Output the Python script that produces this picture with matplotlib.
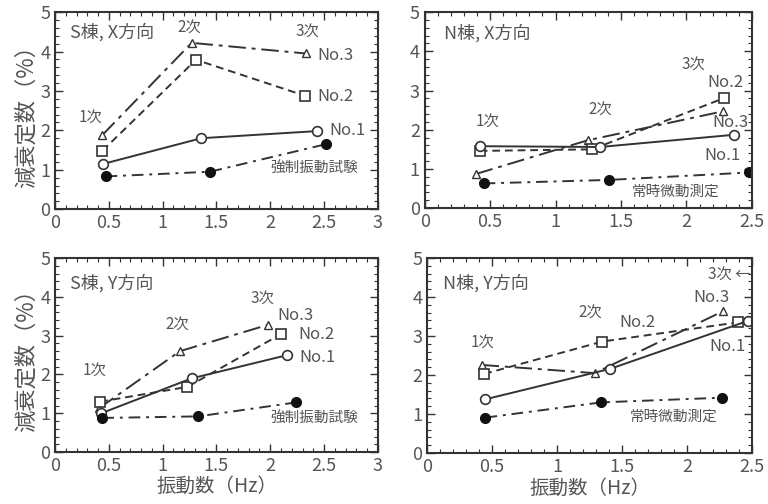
import matplotlib
matplotlib.use("Agg")
import matplotlib.pyplot as plt
from matplotlib.ticker import MultipleLocator, FormatStrFormatter

plt.rcParams['font.family'] = ['Noto Sans CJK JP', 'DejaVu Sans']

TEXT_COLOR = "#555555"
LINE_COLOR = "#333333"

# S棟 X方向
sx_no1_x = [0.45, 1.36, 2.43]
sx_no1_y = [1.15, 1.80, 1.98]
sx_no2_x = [0.44, 1.31, 2.32]
sx_no2_y = [1.48, 3.79, 2.88]
sx_no3_x = [0.44, 1.27, 2.33]
sx_no3_y = [1.88, 4.22, 3.95]
sx_forced_x = [0.47, 1.44, 2.52]
sx_forced_y = [0.83, 0.95, 1.65]

# N棟 X方向
nx_no1_x = [0.42, 1.34, 2.36]
nx_no1_y = [1.58, 1.56, 1.87]
nx_no2_x = [0.42, 1.28, 2.29]
nx_no2_y = [1.46, 1.50, 2.81]
nx_no3_x = [0.39, 1.245, 2.28]
nx_no3_y = [0.87, 1.73, 2.47]
nx_micro_x = [0.45, 1.41, 2.48]
nx_micro_y = [0.63, 0.72, 0.91]

# S棟 Y方向
sy_no1_x = [0.43, 1.27, 2.16]
sy_no1_y = [1.00, 1.90, 2.50]
sy_no2_x = [0.42, 1.23, 2.10]
sy_no2_y = [1.30, 1.68, 3.04]
sy_no3_x = [0.41, 1.16, 1.98]
sy_no3_y = [1.13, 2.60, 3.28]
sy_forced_x = [0.44, 1.33, 2.24]
sy_forced_y = [0.88, 0.92, 1.28]

# N棟 Y方向
ny_no1_x = [0.45, 1.41, 2.47]
ny_no1_y = [1.38, 2.16, 3.39]
ny_no2_x = [0.44, 1.35, 2.39]
ny_no2_y = [2.03, 2.86, 3.35]
ny_no3_x = [0.42, 1.29, 2.28]
ny_no3_y = [2.26, 2.05, 3.64]
ny_micro_x = [0.45, 1.34, 2.27]
ny_micro_y = [0.91, 1.30, 1.42]

LS_NO3 = (0, (9, 3, 2, 3))
LS_NO2 = (0, (4, 2.5))
LS_REF = (0, (6, 3, 1.5, 3))

fig = plt.figure(figsize=(7.68, 5.04), dpi=100)
positions = [
    [0.0716, 0.585, 0.4204, 0.391],
    [0.553, 0.587, 0.426, 0.389],
    [0.0716, 0.103, 0.4204, 0.385],
    [0.556, 0.101, 0.423, 0.387],
]
axes = [fig.add_axes(p) for p in positions]


def draw_panel(ax, xmax, no1, no2, no3, ref):
    ax.plot(no3[0], no3[1], color=LINE_COLOR, lw=1.4, ls=LS_NO3, marker="^",
            ms=5.5, mfc="white", mec=LINE_COLOR, mew=1.0)
    ax.plot(no2[0], no2[1], color=LINE_COLOR, lw=1.4, ls=LS_NO2, marker="s",
            ms=6.5, mfc="white", mec=LINE_COLOR, mew=1.2)
    ax.plot(no1[0], no1[1], color=LINE_COLOR, lw=1.4, ls="-", marker="o",
            ms=7, mfc="white", mec=LINE_COLOR, mew=1.2)
    ax.plot(ref[0], ref[1], color=LINE_COLOR, lw=1.4, ls=LS_REF, marker="o",
            ms=7, mfc="#111111", mec="#111111")
    ax.set_xlim(0, xmax)
    ax.set_ylim(0, 5)
    ax.xaxis.set_major_locator(MultipleLocator(0.5))
    ax.xaxis.set_minor_locator(MultipleLocator(0.1))
    ax.yaxis.set_major_locator(MultipleLocator(1))
    ax.yaxis.set_minor_locator(MultipleLocator(0.2))
    ax.xaxis.set_major_formatter(FormatStrFormatter("%g"))
    ax.tick_params(which="both", direction="in", top=True, right=True,
                   colors=LINE_COLOR, labelcolor=TEXT_COLOR, labelsize=13)
    ax.tick_params(which="major", length=6, width=1.0)
    ax.tick_params(which="minor", length=3, width=0.8)
    for s in ax.spines.values():
        s.set_linewidth(1.5)
        s.set_color(LINE_COLOR)


def label(ax, x, y, s, ha="center", size=12):
    ax.text(x, y, s, ha=ha, va="center", fontsize=size, color=TEXT_COLOR)


# S棟 X方向
ax = axes[0]
draw_panel(ax, 3, (sx_no1_x, sx_no1_y), (sx_no2_x, sx_no2_y),
           (sx_no3_x, sx_no3_y), (sx_forced_x, sx_forced_y))
label(ax, 0.14, 4.49, "S棟, X方向", ha="left", size=13)
label(ax, 0.33, 2.31, "1次", size=11)
label(ax, 1.25, 4.59, "2次", size=11)
label(ax, 2.35, 4.49, "3次", size=11)
label(ax, 2.44, 3.91, "No.3", ha="left")
label(ax, 2.44, 2.87, "No.2", ha="left")
label(ax, 2.55, 2.00, "No.1", ha="left")
label(ax, 2.0, 1.04, "強制振動試験", ha="left", size=10.5)
ax.set_ylabel("減衰定数（%）", fontsize=16, color=TEXT_COLOR, labelpad=2)

# N棟 X方向
ax = axes[1]
draw_panel(ax, 2.5, (nx_no1_x, nx_no1_y), (nx_no2_x, nx_no2_y),
           (nx_no3_x, nx_no3_y), (nx_micro_x, nx_micro_y))
label(ax, 0.15, 4.46, "N棟, X方向", ha="left", size=13)
label(ax, 0.48, 2.19, "1次", size=11)
label(ax, 1.34, 2.50, "2次", size=11)
label(ax, 2.05, 3.65, "3次", size=11)
label(ax, 2.16, 3.21, "No.2", ha="left")
label(ax, 2.20, 2.19, "No.3", ha="left")
label(ax, 2.14, 1.35, "No.1", ha="left")
label(ax, 1.58, 0.41, "常時微動測定", ha="left", size=10.5)

# S棟 Y方向
ax = axes[2]
draw_panel(ax, 3, (sy_no1_x, sy_no1_y), (sy_no2_x, sy_no2_y),
           (sy_no3_x, sy_no3_y), (sy_forced_x, sy_forced_y))
label(ax, 0.14, 4.36, "S棟, Y方向", ha="left", size=13)
label(ax, 0.37, 2.09, "1次", size=11)
label(ax, 1.14, 3.27, "2次", size=11)
label(ax, 1.93, 3.94, "3次", size=11)
label(ax, 2.07, 3.53, "No.3", ha="left")
label(ax, 2.26, 3.02, "No.2", ha="left")
label(ax, 2.27, 2.45, "No.1", ha="left")
label(ax, 2.0, 0.87, "強制振動試験", ha="left", size=10.5)
ax.set_ylabel("減衰定数（%）", fontsize=16, color=TEXT_COLOR, labelpad=2)
ax.set_xlabel("振動数（Hz）", fontsize=14, color=TEXT_COLOR, labelpad=1)

# N棟 Y方向
ax = axes[3]
draw_panel(ax, 2.5, (ny_no1_x, ny_no1_y), (ny_no2_x, ny_no2_y),
           (ny_no3_x, ny_no3_y), (ny_micro_x, ny_micro_y))
label(ax, 0.12, 4.36, "N棟, Y方向", ha="left", size=13)
label(ax, 0.43, 2.82, "1次", size=11)
label(ax, 1.26, 3.58, "2次", size=11)
label(ax, 2.16, 4.56, "3次 ←", ha="left", size=11)
label(ax, 2.05, 4.00, "No.3", ha="left")
label(ax, 1.48, 3.36, "No.2", ha="left")
label(ax, 2.17, 2.72, "No.1", ha="left")
label(ax, 1.56, 0.92, "常時微動測定", ha="left", size=10.5)
ax.set_xlabel("振動数（Hz）", fontsize=14, color=TEXT_COLOR, labelpad=1)

fig.savefig("out.png", dpi=100)
